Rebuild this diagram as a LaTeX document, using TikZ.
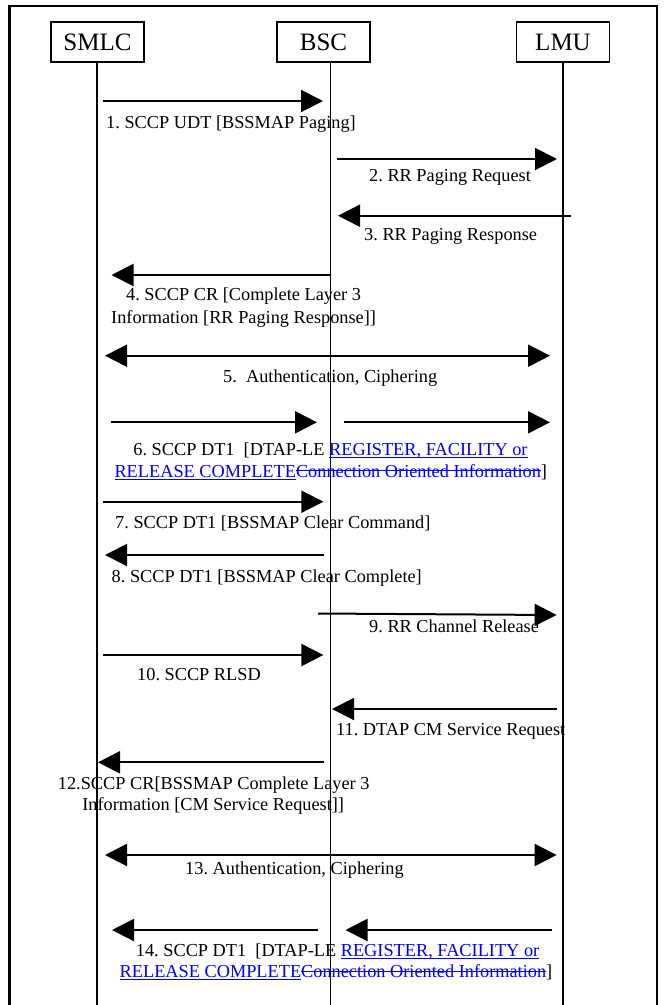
\documentclass[tikz,border=0pt]{standalone}
\usepackage{fontspec}
\setmainfont{Liberation Serif}
\usetikzlibrary{arrows.meta}
\definecolor{linkblue}{RGB}{0,0,255}
\newsavebox{\lnkbox}
\newcommand{\lnk}[1]{\sbox{\lnkbox}{\color{linkblue}#1}\rlap{\color{linkblue}\rule[-0.15em]{\wd\lnkbox}{0.06em}}\usebox{\lnkbox}}
\newcommand{\strk}[1]{\sbox{\lnkbox}{\color{linkblue}#1}\rlap{\color{linkblue}\rule[0.32em]{\wd\lnkbox}{0.06em}}\usebox{\lnkbox}}
\begin{document}
\frenchspacing
\begin{tikzpicture}[x=1pt,y=-1pt,
  ent/.style={draw,line width=1.8pt,minimum width=93pt,minimum height=40pt,inner sep=0pt,font=\fontsize{25}{28}\selectfont},
  life/.style={line width=1.8pt},
  frame/.style={line width=2.4pt},
  msg/.style={line width=2pt,-{Triangle[length=22pt,width=22pt]}},
  dmsg/.style={line width=2pt,{Triangle[length=22pt,width=22pt]}-{Triangle[length=22pt,width=22pt]}},
  lbl/.style={inner sep=0pt,anchor=base west,font=\fontsize{18.3}{21}\selectfont},
  clbl/.style={inner sep=0pt,anchor=base,font=\fontsize{18.3}{21}\selectfont}]
\useasboundingbox (0,0) rectangle (666,1005);
% frame (open at the bottom)
\draw[frame] (9.5,1005) -- (9.5,6) -- (657,6) -- (657,1005);
% entities
\node[ent] (smlc) at (97.5,42) {SMLC};
\node[ent] (bsc) at (323.5,42) {BSC};
\node[ent] (lmu) at (563,42) {LMU};
% lifelines
\coordinate (smlcEnd) at (97,1005);
\coordinate (bscEnd) at (330.5,1005);
\coordinate (lmuEnd) at (563,1005);
\draw[life] (smlc.south -| smlcEnd) -- (smlcEnd);
\draw[life] (bsc.south -| bscEnd) -- (bscEnd);
\draw[life] (lmu.south -| lmuEnd) -- (lmuEnd);
% message end points
\coordinate (m1a) at (103,101);   \coordinate (m1b) at (323,101);
\coordinate (m2a) at (337,159);   \coordinate (m2b) at (557,159);
\coordinate (m3a) at (571,215.7); \coordinate (m3b) at (338,215.7);
\coordinate (m4a) at (330.6,275); \coordinate (m4b) at (111.5,275);
\coordinate (m5a) at (105,355.7); \coordinate (m5b) at (550,355.7);
\coordinate (m6a) at (110.6,422.3); \coordinate (m6b) at (317,422.3);
\coordinate (m6c) at (343.8,422.3); \coordinate (m6d) at (550,422.3);
\coordinate (m7a) at (103.4,501.7); \coordinate (m7b) at (323.4,501.7);
\coordinate (m8a) at (324,555);   \coordinate (m8b) at (105,555);
\coordinate (m9a) at (318,613.5); \coordinate (m9b) at (556.6,615);
\coordinate (m10a) at (103.4,655); \coordinate (m10b) at (323.4,655);
\coordinate (m11a) at (557,709);  \coordinate (m11b) at (332,709);
\coordinate (m12a) at (324,762.3); \coordinate (m12b) at (98,762.3);
\coordinate (m13a) at (105,855);  \coordinate (m13b) at (556.6,855);
\coordinate (m14a) at (318,930);  \coordinate (m14b) at (112,930);
\coordinate (m14c) at (552,930);  \coordinate (m14d) at (345.5,930);
% messages
\draw[msg] (m1a) -- (m1b);
\draw[msg] (m2a) -- (m2b);
\draw[msg] (m3a) -- (m3b);
\draw[msg] (m4a) -- (m4b);
\draw[dmsg] (m5a) -- (m5b);
\draw[msg] (m6a) -- (m6b);
\draw[msg] (m6c) -- (m6d);
\draw[msg] (m7a) -- (m7b);
\draw[msg] (m8a) -- (m8b);
\draw[msg] (m9a) -- (m9b);
\draw[msg] (m10a) -- (m10b);
\draw[msg] (m11a) -- (m11b);
\draw[msg] (m12a) -- (m12b);
\draw[dmsg] (m13a) -- (m13b);
\draw[msg] (m14a) -- (m14b);
\draw[msg] (m14c) -- (m14d);
% labels
\node[lbl] (t1) at (106,128.3) {1. SCCP UDT [BSSMAP Paging]};
\node[lbl] (t2) at (369,181.5) {2. RR Paging Request};
\node[lbl] (t3) at (364,240.5) {3. RR Paging Response};
\node[clbl] (t4a) at (243.6,300.5) {4. SCCP CR [Complete Layer 3};
\node[clbl] (t4b) at (243.6,323.5) {Information [RR Paging Response]]};
\node[lbl] (t5) at (223,382) {5.~~Authentication, Ciphering};
\node[clbl] (t6a) at (330.5,455.3) {6. SCCP DT1~~[DTAP-LE \lnk{REGISTER, FACILITY or}};
\node[clbl] (t6b) at (330.8,477.3) {\lnk{RELEASE COMPLETE}\strk{Connection Oriented Information}]};
\node[lbl] (t7) at (115,528) {7. SCCP DT1 [BSSMAP Clear Command]};
\node[lbl] (t8) at (111.5,582) {8. SCCP DT1 [BSSMAP Clear Complete]};
\node[lbl] (t9) at (369,632) {9. RR Channel Release};
\node[lbl] (t10) at (137,680.5) {10. SCCP RLSD};
\node[lbl] (t11) at (336,735) {11. DTAP CM Service Request};
\node[clbl] (t12a) at (213.7,789.3) {12.SCCP CR[BSSMAP Complete Layer 3};
\node[clbl] (t12b) at (213.2,810) {Information [CM Service Request]]};
\node[lbl] (t13) at (185,874.5) {13. Authentication, Ciphering};
\node[clbl] (t14a) at (337.6,956.7) {14. SCCP DT1~~[DTAP-LE \lnk{REGISTER, FACILITY or}};
\node[clbl] (t14b) at (336,977.7) {\lnk{RELEASE COMPLETE}\strk{Connection Oriented Information}]};
\end{tikzpicture}
\end{document}
